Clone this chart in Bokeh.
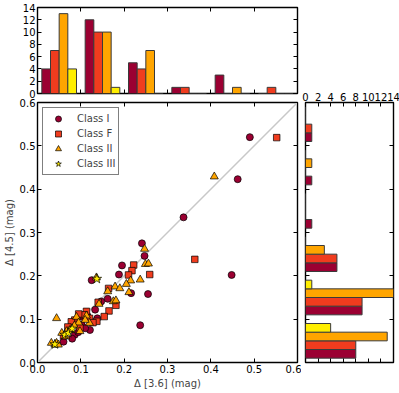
import numpy as np
from bokeh.plotting import figure
from bokeh.layouts import column, row
from bokeh.models import LinearAxis, FixedTicker, PrintfTickFormatter, Range1d
from bokeh.embed import file_html
from bokeh.resources import INLINE

# ---------------- data ----------------
classes = ["Class I", "Class F", "Class II", "Class III"]
colors = ["#9b0032", "#f03c1e", "#ffa500", "#ffee00"]
markers = ["circle", "square", "triangle", "star"]
marker_sizes = [7, 6.5, 8, 10]

class1_x = [0.490, 0.462, 0.448, 0.337, 0.241, 0.247, 0.255, 0.237, 0.216, 0.195, 0.188, 0.125, 0.162,
            0.147, 0.133, 0.138, 0.102, 0.121, 0.110, 0.105, 0.115, 0.086, 0.094, 0.080, 0.060]
class1_y = [0.520, 0.423, 0.202, 0.335, 0.275, 0.246, 0.158, 0.086, 0.160, 0.224, 0.203, 0.190, 0.147,
            0.141, 0.122, 0.102, 0.087, 0.075, 0.079, 0.105, 0.108, 0.064, 0.070, 0.055, 0.048]

classF_x = [0.552, 0.363, 0.222, 0.218, 0.210, 0.259, 0.164, 0.181, 0.140, 0.165, 0.154, 0.137, 0.113,
            0.108, 0.120, 0.128, 0.095, 0.086, 0.090, 0.078, 0.070, 0.098, 0.060]
classF_y = [0.519, 0.238, 0.225, 0.212, 0.202, 0.203, 0.171, 0.132, 0.139, 0.119, 0.106, 0.095, 0.118,
            0.110, 0.102, 0.092, 0.112, 0.098, 0.088, 0.094, 0.082, 0.080, 0.062]

class2_x = [0.408, 0.247, 0.249, 0.256, 0.237, 0.215, 0.205, 0.211, 0.179, 0.190, 0.136, 0.162, 0.175,
            0.181, 0.142, 0.113, 0.120, 0.110, 0.044, 0.090, 0.095, 0.056, 0.067, 0.075, 0.098, 0.032,
            0.040, 0.044, 0.048, 0.085, 0.065]
class2_y = [0.429, 0.262, 0.227, 0.228, 0.191, 0.189, 0.181, 0.162, 0.175, 0.171, 0.196, 0.164, 0.141,
            0.143, 0.135, 0.108, 0.091, 0.098, 0.102, 0.105, 0.092, 0.068, 0.072, 0.075, 0.072, 0.045,
            0.041, 0.045, 0.041, 0.085, 0.060]

class3_x = [0.137, 0.063, 0.071, 0.040, 0.080]
class3_y = [0.193, 0.064, 0.068, 0.042, 0.078]

bin_edges = [0.0, 0.1, 0.2, 0.3, 0.4, 0.5, 0.6]
mag_ticks = [0.0, 0.1, 0.2, 0.3, 0.4, 0.5, 0.6]
count_ticks = [0, 2, 4, 6, 8, 10, 12, 14]
one_to_one = [0.0, 0.6]

xs = [class1_x, classF_x, class2_x, class3_x]
ys = [class1_y, classF_y, class2_y, class3_y]

FONT = "DejaVu Sans"
FS = "10px"

mag_range_x = Range1d(0, 0.6)
mag_range_y = Range1d(0, 0.6)

LEFT_B = 35
MAIN_W = 260
MAIN_H = 260
TOP_T = 7
TOP_H = 86
TOP_B = 5
MAIN_T = 4
BOT_B = 30


def base_fig(**kw):
    p = figure(output_backend="svg", toolbar_location=None, title=None, **kw)
    p.xgrid.visible = False
    p.ygrid.visible = False
    p.outline_line_color = "black"
    p.outline_line_width = 1.4
    p.background_fill_color = "white"
    p.border_fill_color = "white"
    return p


def style_axis(ax, ticks, labels=True, fmt=None):
    ax.ticker = FixedTicker(ticks=ticks)
    ax.major_tick_in = 4
    ax.major_tick_out = 0
    ax.minor_tick_line_color = None
    ax.axis_line_color = None
    ax.major_tick_line_color = "black"
    ax.major_tick_line_width = 1
    ax.major_label_text_font = FONT
    ax.major_label_standoff = 2
    if labels:
        ax.major_label_text_font_size = FS
        ax.major_label_text_color = "black"
        if fmt is not None:
            ax.formatter = PrintfTickFormatter(format=fmt)
    else:
        ax.major_label_text_font_size = "1px"
        ax.major_label_text_color = None
        ax.major_label_standoff = 0
    ax.axis_label_text_font = FONT
    ax.axis_label_text_font_size = FS
    ax.axis_label_text_font_style = "normal"
    ax.axis_label_standoff = 2


def add_box_axis(p, side, ticks):
    ax = LinearAxis()
    style_axis(ax, ticks, labels=False)
    p.add_layout(ax, side)


nb = len(classes)
bin_w = bin_edges[1] - bin_edges[0]
bar_w = 0.8 * bin_w / nb
centers = np.array([(bin_edges[i] + bin_edges[i + 1]) / 2 for i in range(len(bin_edges) - 1)])

# ---------------- top histogram ----------------
top = base_fig(frame_width=MAIN_W, frame_height=TOP_H, x_range=mag_range_x, y_range=Range1d(0, 14),
               min_border_left=LEFT_B, min_border_right=4, min_border_top=TOP_T, min_border_bottom=TOP_B)
for i in range(nb):
    counts, _ = np.histogram(xs[i], bins=bin_edges)
    pos = centers + (i - (nb - 1) / 2) * bar_w
    top.vbar(x=pos, top=counts, bottom=0, width=bar_w, fill_color=colors[i],
             line_color="#3a3a3a", line_width=1)
style_axis(top.xaxis[0], mag_ticks, labels=False)
style_axis(top.yaxis[0], count_ticks, labels=True)
add_box_axis(top, "above", mag_ticks)
add_box_axis(top, "right", count_ticks)

# ---------------- main scatter ----------------
main = base_fig(frame_width=MAIN_W, frame_height=MAIN_H, x_range=mag_range_x, y_range=mag_range_y,
                min_border_left=LEFT_B, min_border_right=4, min_border_top=MAIN_T, min_border_bottom=BOT_B)
main.line(one_to_one, one_to_one, line_color="#c8c8c8", line_width=1.5)
for i in range(nb):
    main.scatter(xs[i], ys[i], marker=markers[i], size=marker_sizes[i], fill_color=colors[i],
                 line_color="black", line_width=0.7, legend_label=classes[i])
style_axis(main.xaxis[0], mag_ticks, labels=True, fmt="%.1f")
style_axis(main.yaxis[0], mag_ticks, labels=True, fmt="%.1f")
main.xaxis[0].axis_label = "\u0394 [3.6] (mag)"
main.yaxis[0].axis_label = "\u0394 [4.5] (mag)"
add_box_axis(main, "above", mag_ticks)
add_box_axis(main, "right", mag_ticks)

lg = main.legend[0]
lg.location = "top_left"
lg.margin = 5
lg.padding = 3
lg.spacing = 0
lg.glyph_width = 24
lg.glyph_height = 15
lg.label_height = 15
lg.label_standoff = 7
lg.label_text_font = FONT
lg.label_text_font_size = FS
lg.border_line_color = "black"
lg.border_line_width = 1.2
lg.background_fill_alpha = 1.0

# ---------------- right histogram ----------------
right_top = TOP_T + TOP_H + TOP_B + MAIN_T
right = base_fig(frame_width=88, frame_height=MAIN_H, x_range=Range1d(0, 14), y_range=mag_range_y,
                 x_axis_location="above",
                 min_border_left=4, min_border_right=7, min_border_top=right_top, min_border_bottom=BOT_B)
for i in range(nb):
    counts, _ = np.histogram(ys[i], bins=bin_edges)
    pos = centers + (i - (nb - 1) / 2) * bar_w
    right.hbar(y=pos, right=counts, left=0, height=bar_w, fill_color=colors[i],
               line_color="#3a3a3a", line_width=1)
style_axis(right.xaxis[0], count_ticks, labels=True)
right.xaxis[0].major_label_standoff = 2
style_axis(right.yaxis[0], mag_ticks, labels=False)
add_box_axis(right, "below", count_ticks)
add_box_axis(right, "right", mag_ticks)

layout = row(column(top, main, spacing=0), right, spacing=0)

with open("out.html", "w") as f:
    f.write(file_html(layout, INLINE))
